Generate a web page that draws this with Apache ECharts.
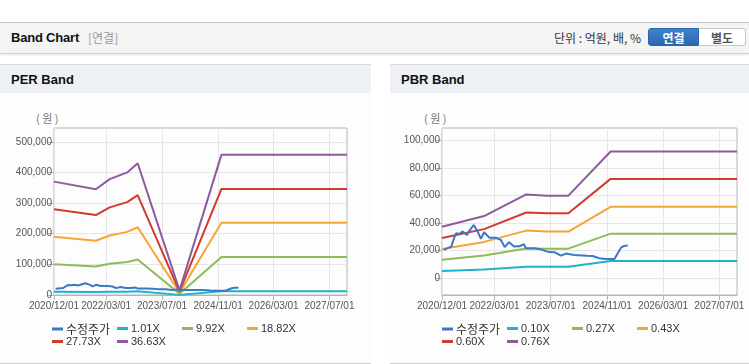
<!DOCTYPE html>
<html><head><meta charset="utf-8">
<script src="https://cdn.jsdelivr.net/npm/echarts@6/dist/echarts.min.js"></script>
<style>
html,body{margin:0;padding:0;background:#fff;width:749px;height:364px;overflow:hidden;font-family:"Liberation Sans","Noto Sans CJK KR",sans-serif;}
#topbar{position:absolute;left:0;top:22px;width:749px;height:30px;background:#f4f4f4;border-top:1px solid #c4c4c4;border-bottom:1px solid #d0d0d0;box-shadow:0 1px 2px rgba(0,0,0,0.10);}
#tb-title{position:absolute;left:11px;top:7px;font-size:13px;font-weight:bold;color:#111;font-family:"Liberation Sans","Noto Sans CJK KR",sans-serif;letter-spacing:-0.2px;}
#tb-sub{position:absolute;left:88px;top:8px;font-size:12px;color:#999;font-family:"Noto Sans CJK KR",sans-serif;line-height:14px;}
#tb-unit{position:absolute;right:108px;top:8px;font-size:12px;color:#333;font-family:"Noto Sans CJK KR",sans-serif;line-height:14px;}
.btn{position:absolute;top:5px;height:18px;line-height:18px;font-size:12px;font-weight:bold;text-align:center;font-family:"Noto Sans CJK KR",sans-serif;box-sizing:border-box;}
#b1{left:648px;width:51px;background:linear-gradient(#3d82cc,#2a68ad);color:#fff;border:1px solid #2a64a8;border-radius:3px 0 0 3px;}
#b2{left:699px;width:47px;background:#fff;color:#555;border:1px solid #c8c8c8;border-left:none;border-radius:0 3px 3px 0;}
.panel{position:absolute;top:64px;height:298px;background:#fdfdfd;border-top:1px solid #dadada;border-bottom:1px solid #d2d2d2;}
.phead{position:absolute;left:0;top:0;right:0;height:28px;background:#edf1f6;}
.ptitle{position:absolute;left:11px;top:7px;font-size:13px;font-weight:bold;color:#111;font-family:"Liberation Sans",sans-serif;}
.yname{position:absolute;top:111px;font-size:11px;color:#777;font-family:"Noto Sans CJK KR",sans-serif;line-height:14px;white-space:pre;}
#chart{position:absolute;left:0;top:0;width:749px;height:364px;}
</style></head>
<body>
<div id="topbar">
  <div id="tb-title">Band Chart</div>
  <div id="tb-sub">[연결]</div>
  <div id="tb-unit">단위 : 억원, 배, %</div>
  <div class="btn" id="b1">연결</div>
  <div class="btn" id="b2">별도</div>
</div>
<div class="panel" style="left:0;width:371px;"><div class="phead"><div class="ptitle">PER Band</div></div></div>
<div class="panel" style="left:390px;width:359px;"><div class="phead"><div class="ptitle">PBR Band</div></div></div>
<div class="yname" style="left:36px;">( 원 )</div>
<div class="yname" style="left:424px;">( 원 )</div>
<div id="chart"></div>
<script>
// ---- data ----
const xTickDates = ['2020-12-01','2022-03-01','2023-07-01','2024-11-01','2026-03-01','2027-07-01'];
const xRange = ['2020-12-01','2027-12-01'];
const perYTicks = [0,100000,200000,300000,400000,500000];
const pbrYTicks = [0,20000,40000,60000,80000,100000];

const priceDates = ['2020-12-15','2021-02-20','2021-03-10','2021-04-01','2021-05-01','2021-05-28','2021-07-05','2021-08-01','2021-09-01','2021-10-06','2021-11-03','2021-12-01','2022-01-15','2022-03-12','2022-04-25','2022-05-28','2022-07-05','2022-08-18','2022-10-01','2022-11-10','2022-11-28','2023-02-10','2023-04-05','2023-06-03','2023-08-01','2023-09-28','2023-11-10','2024-01-20','2024-05-10','2024-06-28','2024-08-25','2024-10-20','2025-01-03','2025-02-01','2025-03-01','2025-03-28','2025-04-28'];
const priceValues = [20400,22800,27600,32500,32000,33700,31300,35000,38500,33700,28400,33200,29300,29300,27600,22500,26000,22800,23000,24500,21600,21600,20800,19100,18700,16200,17700,16700,16200,16000,14300,13800,13800,18000,22000,23300,23500];

const perBandDates = ['2020-12-01','2021-12-01','2022-04-01','2022-09-01','2022-12-01','2023-12-01','2024-12-01','2027-12-01'];
const per1_01 = [10200,9500,10400,11000,11900,400,12600,12600];
const per9_92 = [100000,93000,102000,108000,116000,4000,124000,124000];
const per18_82 = [190000,177000,194000,206000,221000,7500,236000,236000];
const per27_73 = [280000,261000,286000,303000,326000,11000,346000,346000];
const per36_63 = [370000,345000,378000,400000,430000,15000,458000,458000];

const pbrBandDates = ['2020-12-01','2021-12-01','2022-12-01','2023-06-01','2023-12-01','2024-12-01','2027-12-01'];
const pbr0_10 = [5100,6200,8200,8100,8100,12400,12400];
const pbr0_27 = [13200,16300,21400,21300,21300,32200,32200];
const pbr0_43 = [21100,26200,34400,33800,33700,51700,51700];
const pbr0_60 = [29000,35500,47600,47000,47000,72000,72000];
const pbr0_76 = [37200,45000,60700,59800,59800,91900,91900];

const perNames = ['수정주가','1.01X','9.92X','18.82X','27.73X','36.63X'];
const pbrNames = ['수정주가','0.10X','0.27X','0.43X','0.60X','0.76X'];
const colors = ['#3a78c8','#1db3c8','#8fbb55','#f5a535','#d13b2e','#8f5a9c'];

// ---- build ----
function ts(s){ return Date.parse(s + 'T00:00:00Z'); }
function zip(d, v){ return d.map((x,i)=>[ts(x), v[i]]); }
function fmtDate(v){ const d=new Date(v); const p=n=>String(n).padStart(2,'0'); return d.getUTCFullYear()+'/'+p(d.getUTCMonth()+1)+'/'+p(d.getUTCDate()); }
function fmtNum(v){ return Number(v).toLocaleString('en-US'); }
const axisFont = {fontFamily:'Liberation Sans, sans-serif', fontSize:10, color:'#555'};

function xAxis(gi){
  const tv = xTickDates.map(ts);
  return {type:'value', gridIndex:gi, min:ts(xRange[0]), max:ts(xRange[1]),
    axisLine:{show:true, onZero:false, lineStyle:{color:'#b4b4b4'}},
    axisTick:{show:true, length:5, lineStyle:{color:'#b4b4b4'}, customValues:tv},
    axisLabel:Object.assign({customValues:tv, formatter:fmtDate, margin:6, hideOverlap:false}, axisFont),
    splitLine:{show:true, lineStyle:{color:'#e6e6e6'}}};
}
function yAxis(gi, min, max, ticks){
  return {type:'value', gridIndex:gi, min:min, max:max,
    axisLine:{show:false},
    axisTick:{show:true, length:6, lineStyle:{color:'#b4b4b4'}, customValues:ticks},
    axisLabel:Object.assign({customValues:ticks, formatter:fmtNum, margin:2}, axisFont),
    splitLine:{show:true, lineStyle:{color:'#e6e6e6'}}};
}
function line(name, gi, dates, vals, color){
  return {name:name, type:'line', xAxisIndex:gi, yAxisIndex:gi, data:zip(dates, vals),
    showSymbol:false, symbol:'none', lineStyle:{width:2, color:color}, itemStyle:{color:color},
    emphasis:{disabled:true}, animation:false};
}
const series = [
  line(perNames[1],0,perBandDates,per1_01,colors[1]),
  line(perNames[2],0,perBandDates,per9_92,colors[2]),
  line(perNames[3],0,perBandDates,per18_82,colors[3]),
  line(perNames[4],0,perBandDates,per27_73,colors[4]),
  line(perNames[5],0,perBandDates,per36_63,colors[5]),
  line(perNames[0],0,priceDates,priceValues,colors[0]),
  line(pbrNames[1],1,pbrBandDates,pbr0_10,colors[1]),
  line(pbrNames[2],1,pbrBandDates,pbr0_27,colors[2]),
  line(pbrNames[3],1,pbrBandDates,pbr0_43,colors[3]),
  line(pbrNames[4],1,pbrBandDates,pbr0_60,colors[4]),
  line(pbrNames[5],1,pbrBandDates,pbr0_76,colors[5]),
  line(pbrNames[0],1,priceDates,priceValues,colors[0])
];
const legends = [];
function addLegends(names, x0){
  const cols=[0,65,130,195,0,65];
  names.forEach((n,i)=>{
    legends.push({data:[{name:n, itemStyle:{color:colors[i]}}], left:x0+cols[i], top:(i<4?323:336), padding:0,
      icon:'rect', itemWidth:11, itemHeight:3, itemGap:0, selectedMode:false,
      textStyle:{fontSize:(i===0?12:11), color:'#333', fontFamily:(i===0?'Noto Sans CJK KR, sans-serif':'Liberation Sans, sans-serif'), padding:[0,0,0,-2]}});
  });
}
addLegends(perNames, 52);
addLegends(pbrNames, 442);

const chart = echarts.init(document.getElementById('chart'), null, {renderer:'canvas'});
chart.setOption({
  animation:false,
  backgroundColor:'transparent',
  grid:[
    {left:54, top:128, right:402, bottom:69, show:true, borderColor:'#b4b4b4', borderWidth:1, backgroundColor:'transparent'},
    {left:442, top:128, right:12, bottom:69, show:true, borderColor:'#b4b4b4', borderWidth:1, backgroundColor:'transparent'}
  ],
  xAxis:[xAxis(0), xAxis(1)],
  yAxis:[yAxis(0,0,545000,perYTicks), yAxis(1,-12400,109000,pbrYTicks)],
  legend:legends,
  series:series
});
</script>
</body></html>
